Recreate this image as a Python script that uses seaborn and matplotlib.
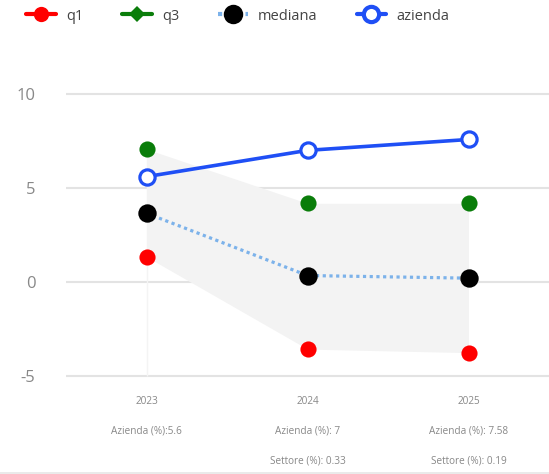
import matplotlib
matplotlib.use("Agg")
import matplotlib.pyplot as plt
from matplotlib.lines import Line2D
import seaborn as sns
import pandas as pd
import numpy as np

# ---- data ----
anni = ["2023", "2024", "2025"]
q1 = [1.33, -3.59, -3.78]
q3 = [7.07, 4.18, 4.18]
mediana = [3.65, 0.33, 0.19]
azienda = [5.6, 7.0, 7.58]
azienda_labels = ["Azienda (%):5.6", "Azienda (%): 7", "Azienda (%): 7.58"]
settore_labels = ["", "Settore (%): 0.33", "Settore (%): 0.19"]
yticks = [-5, 0, 5, 10]

df = pd.DataFrame({"x": np.arange(len(anni)), "anno": anni, "q1": q1, "q3": q3,
                   "mediana": mediana, "azienda": azienda})

sns.set_theme(style="white")
plt.rcParams["font.family"] = ["Open Sans", "DejaVu Sans"]

W, H = 549, 474
fig = plt.figure(figsize=(W / 100, H / 100), dpi=100)
ax_top_px, ax_bot_px = 80, 390
ax = fig.add_axes([66 / W, (H - ax_bot_px) / H, (W - 66) / W, (ax_bot_px - ax_top_px) / H])

# band
ax.fill_between(df["x"], df["q1"], df["q3"], color="#f3f3f3", linewidth=0, zorder=1)

# grid
for v in yticks:
    ax.axhline(v, color="#e3e3e3", linewidth=1.5, zorder=0.5)
ax.vlines(df["x"][0], yticks[0], q3[0], color="#f4f4f4", linewidth=1, zorder=0.6)

blue = "#1f4ff5"
light = "#7cb2ea"
# mediana dotted line
sns.lineplot(data=df, x="x", y="mediana", ax=ax, color=light, linewidth=2.3,
             linestyle=(0, (1, 1.1)), zorder=3, legend=False)
# azienda line
sns.lineplot(data=df, x="x", y="azienda", ax=ax, color=blue, linewidth=2.6,
             zorder=4, legend=False)

sns.scatterplot(data=df, x="x", y="q1", ax=ax, color="#ff0000", s=135, linewidth=0, zorder=5, legend=False)
sns.scatterplot(data=df, x="x", y="q3", ax=ax, color="#0a7d0a", s=135, linewidth=0, zorder=5, legend=False)
sns.scatterplot(data=df, x="x", y="mediana", ax=ax, color="#000000", s=175, linewidth=0, zorder=6, legend=False)
sns.scatterplot(data=df, x="x", y="azienda", ax=ax, color="white", edgecolor=blue, s=120,
                linewidth=2.3, zorder=7, legend=False)

ax.set_xlim(-0.5, len(anni) - 0.5)
ax.set_ylim(-5.77, 10.75)
ax.set_yticks(yticks)
ax.set_yticklabels([str(v) for v in yticks], fontsize=12, color="#888888")
ax.tick_params(axis="y", length=0, pad=22)
ax.set_xticks([])
ax.set_xlabel("")
ax.set_ylabel("")
for s in ax.spines.values():
    s.set_visible(False)

# category labels
trans = ax.get_xaxis_transform()
def fy(px):
    return (ax_bot_px - px) / (ax_bot_px - ax_top_px)

lab_kw = dict(transform=trans, ha="center", va="center", fontsize=7.2, color="#888888", clip_on=False)
for i, a in enumerate(anni):
    ax.text(i, fy(401), a, **lab_kw)
    ax.text(i, fy(431), azienda_labels[i], **lab_kw)
    if settore_labels[i]:
        ax.text(i, fy(461), settore_labels[i], **lab_kw)

# bottom line
fig.add_artist(Line2D([0, 1], [(H - 472.5) / H] * 2, color="#e6e6e6", linewidth=1.2))

# legend
handles = [
    Line2D([], [], color="#ff0000", linewidth=3, marker="o", markersize=11, markeredgewidth=0),
    Line2D([], [], color="#0a7d0a", linewidth=3, marker="D", markersize=8, markeredgewidth=0),
    Line2D([], [], color=light, linewidth=3, linestyle=(0, (1, 1.2)), marker="o",
           markerfacecolor="#000000", markeredgewidth=0, markersize=14),
    Line2D([], [], color=blue, linewidth=3, marker="o", markerfacecolor="white",
           markeredgecolor=blue, markeredgewidth=3, markersize=11),
]
fig.legend(handles, ["q1", "q3", "mediana", "azienda"], loc="center left",
           bbox_to_anchor=(13 / W, 1 - 16 / H), ncol=4, frameon=False, fontsize=10.5,
           handlelength=2.05, handletextpad=0.7, columnspacing=2.65, labelcolor="#444444")

fig.savefig("out.png", dpi=100)
